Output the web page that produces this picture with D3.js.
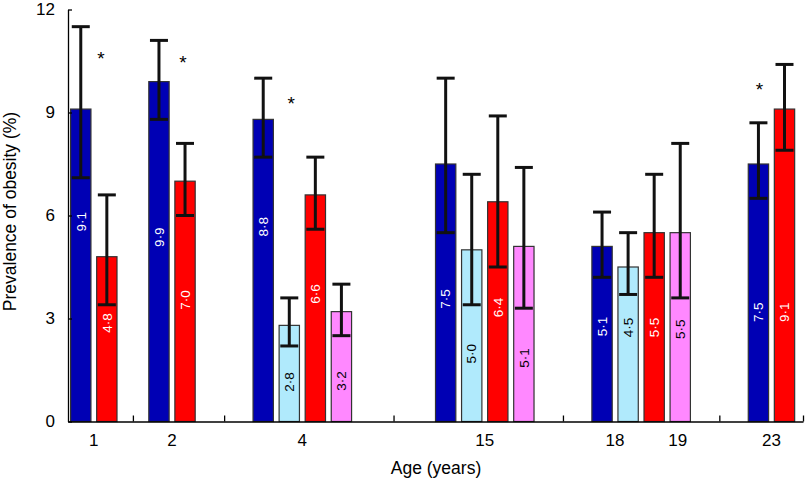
<!DOCTYPE html>
<html>
<head>
<meta charset="utf-8" />
<title>Prevalence of obesity by age</title>
<script src="https://d3js.org/d3.v7.min.js"></script>
<style>
	body, html { margin: 0; padding: 0; background: #fff; }
	svg text { font-family: "Liberation Sans", Arial, sans-serif; }
</style>
</head>
<body>
<svg id="chart" width="807" height="480"></svg>
<script>
	// ages on the x axis
	var ages = ["1", "2", "4", "15", "18", "19", "23"];

	// the four series (bar colours), value and 95% CI per age, null = no bar
	var blueVals = [9.1, 9.9, 8.8, 7.5, 5.1, null, 7.5];
	var blueLo   = [7.1, 8.8, 7.7, 5.5, 4.2, null, 6.5];
	var blueHi   = [11.5, 11.1, 10.0, 10.0, 6.1, null, 8.7];

	var cyanVals = [null, null, 2.8, 5.0, 4.5, null, null];
	var cyanLo   = [null, null, 2.2, 3.4, 3.7, null, null];
	var cyanHi   = [null, null, 3.6, 7.2, 5.5, null, null];

	var redVals  = [4.8, 7.0, 6.6, 6.4, null, 5.5, 9.1];
	var redLo    = [3.4, 6.0, 5.6, 4.5, null, 4.2, 7.9];
	var redHi    = [6.6, 8.1, 7.7, 8.9, null, 7.2, 10.4];

	var pinkVals = [null, null, 3.2, 5.1, null, 5.5, null];
	var pinkLo   = [null, null, 2.5, 3.3, null, 3.6, null];
	var pinkHi   = [null, null, 4.0, 7.4, null, 8.1, null];

	// significance stars
	var starAges   = ["1", "2", "4", "23"];
	var starSeries = ["red", "red", "cyan", "blue"];

	var yTicks = [0, 3, 6, 9, 12];

	// ---- layout (not data) ----
	var gapBefore = [0, 1, 2, 3, 2, 0, 2];          // empty slots before each age
	var ageLabelShift = [0, 0, 0, 0, 0, 0.4, 0];    // nudge of the age label
	var starHeight = [10.7, 10.6, 9.4, 9.8];        // where the star sits (y units)
	var starShift = [-6, -2, 2, 1];                  // px
	var labelAt = {                                   // centre of value text (y units)
		blue: [5.82, 5.37, 5.67, 3.57, 2.77, null, 3.18],
		cyan: [null, null, 1.15, 1.97, 2.74, null, null],
		red:  [2.87, 3.54, 3.71, 3.32, null, 2.74, 3.18],
		pink: [null, null, 1.18, 1.85, null, 2.69, null]
	};

	var series = [
		{ key: "blue", vals: blueVals, lo: blueLo, hi: blueHi, fill: "#0000b4", text: "#fff" },
		{ key: "cyan", vals: cyanVals, lo: cyanLo, hi: cyanHi, fill: "#b0eafc", text: "#000" },
		{ key: "red",  vals: redVals,  lo: redLo,  hi: redHi,  fill: "#ff0000", text: "#fff" },
		{ key: "pink", vals: pinkVals, lo: pinkLo, hi: pinkHi, fill: "#ff88ff", text: "#000" }
	];

	var barFrac = 0.78;

	// build bar list, slot by slot
	var bars = [];
	var ageCentres = [];
	var separators = [];
	var slot = 0;
	ages.forEach(function (age, i) {
		if (gapBefore[i] > 0 && bars.length) {
			var prevEnd = slot - 1 + barFrac;
			separators.push((prevEnd + slot + gapBefore[i]) / 2);
		}
		slot += gapBefore[i];
		var first = slot;
		series.forEach(function (s) {
			if (s.vals[i] == null) return;
			bars.push({ age: age, key: s.key, slot: slot, v: s.vals[i], lo: s.lo[i], hi: s.hi[i],
				fill: s.fill, text: s.text, labelY: labelAt[s.key][i] });
			slot++;
		});
		ageCentres.push((first + slot - 1 + barFrac) / 2 + ageLabelShift[i]);
	});
	var lastEnd = slot - 1 + barFrac;
	separators.push(lastEnd + 0.32);

	var svg = d3.select("#chart");

	var x = d3.scaleLinear().domain([-0.1, lastEnd + 0.32]).range([68, 803]);
	var y = d3.scaleLinear().domain([0, 12]).range([421.5, 9.5]);

	var bw = x(barFrac) - x(0);

	// bars
	svg.append("g").selectAll("rect")
		.data(bars)
		.enter()
		.append("rect")
		.attr("x", function (d) { return x(d.slot); })
		.attr("y", function (d) { return y(d.v); })
		.attr("width", bw)
		.attr("height", function (d) { return y(0) - y(d.v); })
		.attr("fill", function (d) { return d.fill; })
		.attr("stroke", "#333")
		.attr("stroke-width", 1.2);

	// value labels, vertical
	svg.append("g").selectAll("text")
		.data(bars)
		.enter()
		.append("text")
		.attr("transform", function (d) {
			return "translate(" + (x(d.slot) + bw / 2) + "," + y(d.labelY) + ") rotate(-90)";
		})
		.attr("text-anchor", "middle")
		.attr("dy", "0.35em")
		.attr("font-size", "13.5px")
		.attr("fill", function (d) { return d.text; })
		.text(function (d) { return d.v.toFixed(1).replace(".", "\u00b7"); });

	// error bars
	var cap = 18;
	var eb = svg.append("g").attr("stroke", "#111").attr("stroke-width", 3);
	bars.forEach(function (d) {
		var cx = x(d.slot) + bw / 2;
		eb.append("line").attr("x1", cx).attr("x2", cx).attr("y1", y(d.lo)).attr("y2", y(d.hi));
		eb.append("line").attr("x1", cx - cap / 2).attr("x2", cx + cap / 2).attr("y1", y(d.hi)).attr("y2", y(d.hi));
		eb.append("line").attr("x1", cx - cap / 2).attr("x2", cx + cap / 2).attr("y1", y(d.lo)).attr("y2", y(d.lo));
	});

	// stars
	starAges.forEach(function (a, i) {
		var b = bars.find(function (d) { return d.age === a && d.key === starSeries[i]; });
		svg.append("text")
			.attr("x", x(b.slot) + bw / 2 + starShift[i])
			.attr("y", y(starHeight[i]) + 11)
			.attr("text-anchor", "middle")
			.attr("font-size", "19px")
			.text("*");
	});

	// axes
	var yAxis = d3.axisLeft(y).tickValues(yTicks).tickSizeInner(-4).tickSizeOuter(0).tickPadding(13);
	var gy = svg.append("g").attr("transform", "translate(68,0)").call(yAxis);
	gy.selectAll("text").attr("font-size", "17px").attr("fill", "#000");
	gy.selectAll("path, line").attr("stroke", "#000").attr("stroke-width", 1.3);

	var xAxis = d3.axisBottom(x).tickValues(separators).tickSizeInner(-6).tickSizeOuter(0).tickFormat("");
	var gx = svg.append("g").attr("transform", "translate(0,421.5)").call(xAxis);
	gx.selectAll("path, line").attr("stroke", "#000").attr("stroke-width", 1.3);

	svg.append("g").selectAll("text")
		.data(ages)
		.enter()
		.append("text")
		.attr("x", function (d, i) { return x(ageCentres[i]); })
		.attr("y", 446)
		.attr("text-anchor", "middle")
		.attr("font-size", "17px")
		.text(function (d) { return d; });

	svg.append("text")
		.attr("x", 436)
		.attr("y", 474)
		.attr("text-anchor", "middle")
		.attr("font-size", "17.5px")
		.text("Age (years)");

	svg.append("text")
		.attr("transform", "translate(16,211.5) rotate(-90)")
		.attr("text-anchor", "middle")
		.attr("font-size", "17.5px")
		.text("Prevalence of obesity (%)");
</script>
</body>
</html>
